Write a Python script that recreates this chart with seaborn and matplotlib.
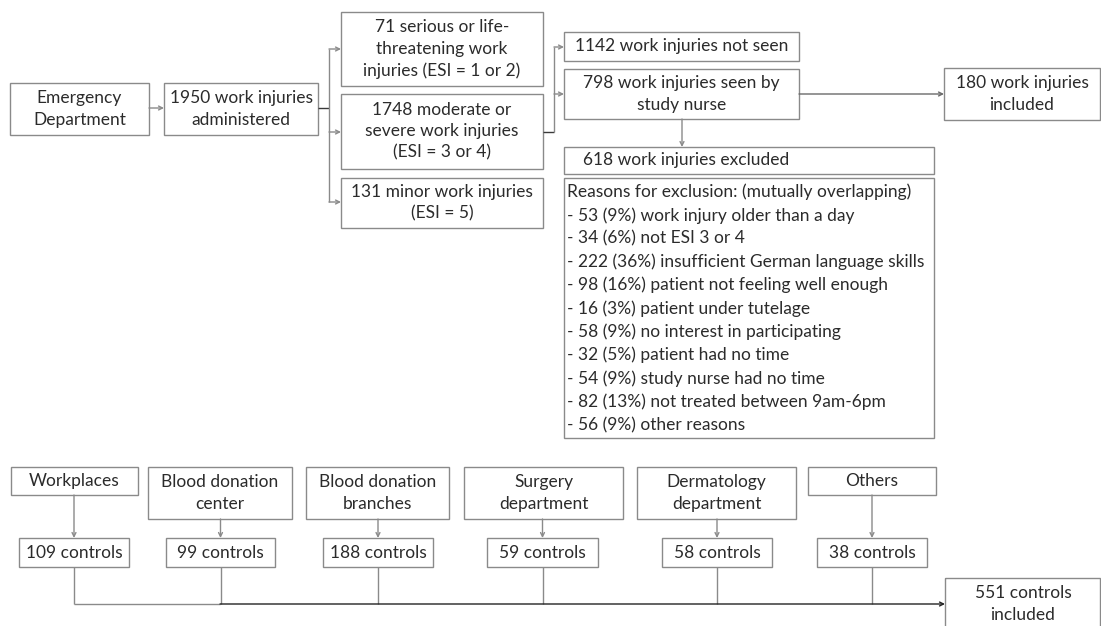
import matplotlib
matplotlib.use("Agg")
import matplotlib.pyplot as plt
from matplotlib.patches import Rectangle
import seaborn as sns

sns.set_theme(style="white")
plt.rcParams["font.family"] = ["Lato", "DejaVu Sans"]

# ---- data ----
ed_total = 1950
esi_counts = [71, 1748, 131]
esi_texts = ["serious or life-\nthreatening work\ninjuries (ESI = 1 or 2)",
             "moderate or\nsevere work injuries\n(ESI = 3 or 4)",
             "minor work injuries\n(ESI = 5)"]
not_seen = 1142
seen = 798
excluded = 618
cases_included = 180
reason_counts = [53, 34, 222, 98, 16, 58, 32, 54, 82, 56]
reason_pcts = [9, 6, 36, 16, 3, 9, 5, 9, 13, 9]
reason_labels = ["work injury older than a day", "not ESI 3 or 4",
                 "insufficient German language skills",
                 "patient not feeling well enough", "patient under tutelage",
                 "no interest in participating", "patient had no time",
                 "study nurse had no time", "not treated between 9am-6pm",
                 "other reasons"]
control_sources = ["Workplaces", "Blood donation\ncenter", "Blood donation\nbranches",
                   "Surgery\ndepartment", "Dermatology\ndepartment", "Others"]
control_counts = [109, 99, 188, 59, 58, 38]
controls_total = 551

# ---- style ----
EDGE = "#8a8a8a"
LINE = "#8a8a8a"
DARK = "#3a3a3a"
TXT = "#2b2b2b"
FS = 12.5
LS = 1.4

fig = plt.figure(figsize=(11.01, 6.26), dpi=100)
ax = fig.add_axes([0, 0, 1, 1])
ax.set_xlim(0, 1101)
ax.set_ylim(626, 0)
ax.axis("off")


def box(x0, y0, x1, y1, text, ha="center", tx=None):
    ax.add_patch(Rectangle((x0, y0), x1 - x0, y1 - y0, fill=False,
                           edgecolor=EDGE, lw=1.0, clip_on=False))
    if text is not None:
        xt = (x0 + x1) / 2 if tx is None else tx
        ax.text(xt, (y0 + y1) / 2, text, ha=ha, va="center", fontsize=FS,
                color=TXT, linespacing=LS, multialignment="center")


def line(xs, ys, color=LINE):
    ax.plot(xs, ys, color=color, lw=1.0, solid_capstyle="butt")


def arrow(x0, y0, x1, y1, color=LINE):
    ax.annotate("", xy=(x1, y1), xytext=(x0, y0),
                arrowprops=dict(arrowstyle="->", color=color, lw=1.0,
                                shrinkA=0, shrinkB=0, mutation_scale=7))


# ---- case branch ----
box(10, 83, 149, 135, "Emergency\nDepartment")
arrow(149, 108, 164, 108)
box(164, 83, 318, 135, f"{ed_total} work injuries\nadministered")

esi_y = [(12, 86), (94, 169), (178, 228)]
for (y0, y1), n, t in zip(esi_y, esi_counts, esi_texts):
    box(341, y0, 543, y1, f"{n} {t}")
line([318, 329], [108, 108], DARK)
line([329, 329], [49, 202])
for yy in [49, 132, 202]:
    arrow(329, yy, 341, yy)

line([543, 554], [132, 132], DARK)
line([554, 554], [47, 132])
arrow(554, 47, 564, 47)
arrow(554, 94, 564, 94)
box(564, 32, 799, 61, f"{not_seen} work injuries not seen")
box(564, 69, 799, 119, f"{seen} work injuries seen by\nstudy nurse")
arrow(799, 94, 944, 94, "#6a6a6a")
box(944, 68, 1100, 120, f"{cases_included} work injuries\nincluded")
arrow(682, 119, 682, 147)
box(564, 147, 934, 174, f"{excluded} work injuries excluded", ha="left", tx=583)

box(564, 178, 934, 438, None)
reason_lines = ["Reasons for exclusion: (mutually overlapping)"] + [
    f"- {c} ({p}%) {lab}" for c, p, lab in zip(reason_counts, reason_pcts, reason_labels)]
for i, s in enumerate(reason_lines):
    ax.text(567, 192 + i * 23.3, s, ha="left", va="center", fontsize=FS, color=TXT)

# ---- control branch ----
src_x = [(11, 138), (148, 292), (306, 449), (464, 623), (637, 796), (808, 936)]
ctl_x = [(19, 129), (166, 275), (323, 433), (487, 598), (662, 772), (817, 927)]
for (sx0, sx1), (cx0, cx1), src, n in zip(src_x, ctl_x, control_sources, control_counts):
    y1 = 519 if "\n" in src else 495
    box(sx0, 467, sx1, y1, src)
    xc = (cx0 + cx1) / 2
    arrow(xc, y1, xc, 538)
    box(cx0, 538, cx1, 567, f"{n} controls")
    line([xc, xc], [567, 604])
line([74, 220], [604, 604])
arrow(220, 604, 945, 604, "#222222")
box(945, 578, 1100, 660, None)
ax.text(1023, 604, f"{controls_total} controls\nincluded", ha="center", va="center",
        fontsize=FS, color=TXT, linespacing=LS)

fig.savefig("out.png", dpi=100)
